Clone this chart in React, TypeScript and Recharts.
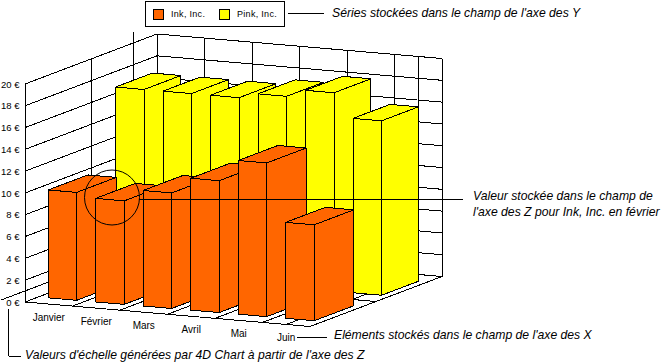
import React from "react";
import { BarChart, Bar, XAxis, YAxis, CartesianGrid, Legend } from "recharts";

const categories = ["Janvier", "Février", "Mars", "Avril", "Mai", "Juin"];
const inkValues = [9.9, 9.5, 10.6, 12.1, 14.1, 8.8];
const pinkValues = [17, 17, 17, 17.5, 18.2, 16];
const yTicks = [0, 2, 4, 6, 8, 10, 12, 14, 16, 18, 20];
const seriesNames = ["Ink, Inc.", "Pink, Inc."];
const seriesColors = ["#FF6600", "#FFFF00"];

const data = categories.map((name, i) => ({ name, ink: inkValues[i], pink: pinkValues[i] }));

const W = 662, H = 363;
const LEFT = 25, RIGHT = 310, TOP = 84, BOTTOM = 302;
const DX = 132, DY = -50, SHEAR = 0.086;
const STEP = (RIGHT - LEFT) / categories.length;
const SANS = "'Liberation Sans', Arial, sans-serif";

const pr = (x: number, y: number, d: number): [number, number] => [x + DX * d, y + (x - LEFT) * SHEAR + DY * d];
const poly = (pts: [number, number][]) => pts.map((p) => p.join(",")).join(" ");
const seg = (a: [number, number], b: [number, number], key?: string) => (
  <line key={key} x1={a[0]} y1={a[1]} x2={b[0]} y2={b[1]} stroke="#000" strokeWidth={1} shapeRendering="crispEdges" />
);

const Prism = (props: any) => {
  const { x, y, width, height, fill, d0, d1 } = props;
  const r = x + width, b = y + height;
  const common = { fill, stroke: "#000", strokeWidth: 1, strokeLinejoin: "round" as const, shapeRendering: "crispEdges" };
  return (
    <g>
      <polygon {...common} points={poly([pr(x, y, d0), pr(r, y, d0), pr(r, y, d1), pr(x, y, d1)])} />
      <polygon {...common} points={poly([pr(r, y, d0), pr(r, b, d0), pr(r, b, d1), pr(r, y, d1)])} />
      <polygon {...common} points={poly([pr(x, y, d0), pr(r, y, d0), pr(r, b, d0), pr(x, b, d0)])} />
    </g>
  );
};

const HLine = (p: any) => {
  const y = p.y1;
  return (
    <g key={p.key}>
      {seg(pr(LEFT, y, 0), pr(LEFT, y, 1))}
      {seg(pr(LEFT, y, 1), pr(RIGHT, y, 1))}
    </g>
  );
};

const VLine = (p: any) => {
  const c = p.x1 - STEP / 2;
  const isFirst = p.index === 0;
  const isLast = p.index === categories.length - 1;
  const one = (x: number, k: string) => (
    <g key={k}>
      {seg(pr(x, BOTTOM, 0), pr(x, BOTTOM, 1))}
      {seg(pr(x, BOTTOM, 1), pr(x, TOP, 1))}
    </g>
  );
  return (
    <g key={p.key}>
      {one(c, "a")}
      {isLast && one(c + STEP, "b")}
      {isFirst && seg(pr(LEFT, BOTTOM, 0), pr(LEFT, TOP, 0))}
      {isFirst && seg(pr(LEFT, BOTTOM, 0.5), pr(LEFT, TOP, 0.5))}
      {isFirst && seg(pr(LEFT, BOTTOM, 0), pr(RIGHT, BOTTOM, 0))}
      {isFirst && seg(pr(LEFT, BOTTOM, 0.5), pr(RIGHT, BOTTOM, 0.5))}
    </g>
  );
};

const XTick = (p: any) => (
  <text x={p.x} y={BOTTOM + (p.x - LEFT) * SHEAR + 17} textAnchor="middle" fontFamily={SANS} fontSize={10} fill="#000">
    {p.payload.value}
  </text>
);

const YTick = (p: any) => (
  <text x={19.5} y={p.y} dy={3.5} textAnchor="end" fontFamily={SANS} fontSize={9.5} fill="#000">
    {`${p.payload.value} €`}
  </text>
);

const LegendBox = () => (
  <div style={{ width: 138, height: 24, border: "1px solid #000", background: "#fff", position: "relative", fontFamily: SANS, fontSize: 9, boxSizing: "content-box" }}>
    {seriesNames.map((n, i) => (
      <React.Fragment key={n}>
        <span style={{ position: "absolute", left: 7 + i * 66, top: 7, width: 9, height: 9, background: seriesColors[i], border: "1px solid #000" }} />
        <span style={{ position: "absolute", left: 25 + i * 66, top: 6, lineHeight: "12px", whiteSpace: "nowrap", letterSpacing: 0.3 }}>{n}</span>
      </React.Fragment>
    ))}
  </div>
);

const Note = ({ x, y, children }: any) => (
  <text x={x} y={y} fontFamily={SANS} fontStyle="italic" fontSize={12.2} fill="#000">{children}</text>
);

export default function App() {
  return (
    <div style={{ position: "absolute", left: 0, top: 0, width: W, height: H, background: "#fff" }}>
      <BarChart
        width={W}
        height={H}
        data={data}
        margin={{ top: TOP, right: W - RIGHT, bottom: H - BOTTOM - 30, left: 0 }}
        barCategoryGap="20%"
        barSize={STEP * 0.6}
        barGap={-STEP * 0.6}
      >
        <CartesianGrid horizontal={HLine} vertical={VLine} />
        <XAxis dataKey="name" height={30} axisLine={false} tickLine={false} tick={XTick} interval={0} />
        <YAxis width={LEFT} domain={[0, 20]} ticks={yTicks} axisLine={false} tickLine={false} tick={YTick} interval={0} />
        <Legend layout="vertical" align="center" verticalAlign="middle" content={LegendBox} wrapperStyle={{ left: 145, top: 1, width: 140, height: 26, margin: 0 }} />
        <Bar dataKey="pink" name={seriesNames[1]} fill={seriesColors[1]} isAnimationActive={false} shape={(p: any) => <Prism {...p} d0={0.61} d1={0.89} />} />
        <Bar dataKey="ink" name={seriesNames[0]} fill={seriesColors[0]} isAnimationActive={false} shape={(p: any) => <Prism {...p} d0={0.1} d1={0.4} />} />
      </BarChart>
      <svg width={W} height={H} style={{ position: "absolute", left: 0, top: 0, pointerEvents: "none" }}>
        <circle cx={112} cy={197.5} r={27.5} fill="none" stroke="#000" />
        {seg([139, 199.5], [463, 199.5])}
        {seg([288, 13.5], [324, 13.5])}
        {seg([297, 337], [327, 337])}
        {seg([8.5, 309], [8.5, 356])}
        {seg([8.5, 356], [21, 356])}
        <Note x={332} y={17}>Séries stockées dans le champ de l'axe des Y</Note>
        <Note x={473} y={200}>Valeur stockée dans le champ de</Note>
        <Note x={473} y={216}>l'axe des Z pour Ink, Inc. en février</Note>
        <Note x={334} y={339}>Eléments stockés dans le champ de l'axe des X</Note>
        <Note x={25} y={359}>Valeurs d'échelle générées par 4D Chart à partir de l'axe des Z</Note>
      </svg>
    </div>
  );
}
